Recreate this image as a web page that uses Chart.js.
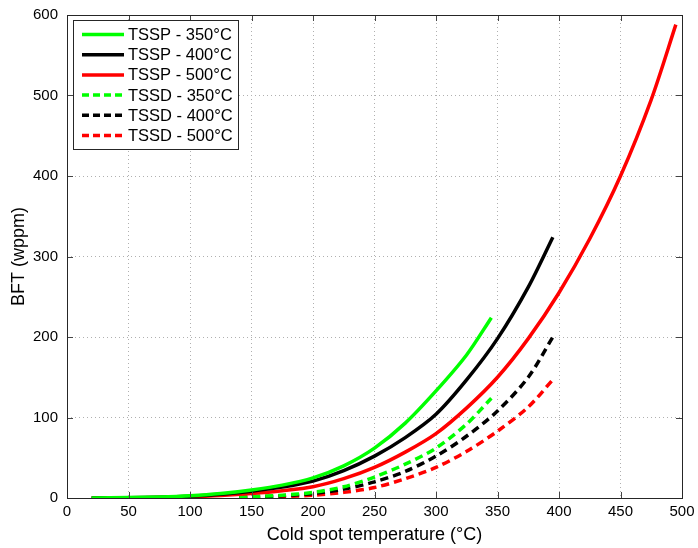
<!DOCTYPE html>
<html lang="en">
  <head>
    <meta charset="UTF-8" />
    <title>BFT vs cold spot temperature</title>
    <script src="https://cdn.jsdelivr.net/npm/chart.js@4.4.0/dist/chart.umd.min.js"></script>
    <style>
      html, body { margin: 0; padding: 0; background: #fff; }
      #wrap { width: 698px; height: 548px; }
    </style>
  </head>
  <body>
    <div id="wrap"><canvas id="bftChart" width="698" height="548"></canvas></div>
    <script>
      // cold spot temperatures (°C) for each curve
      const solid350T = [20, 50, 75, 100, 125, 150, 175, 200, 225, 250, 275, 300, 325, 345];
      const solid400T = [20, 50, 75, 100, 125, 150, 175, 200, 225, 250, 275, 300, 325, 350, 375, 395];
      const solid500T = [20, 50, 75, 100, 125, 150, 175, 200, 225, 250, 275, 300, 325, 350, 375, 400, 425, 450, 475, 495];
      const dash350T = [140, 150, 175, 200, 225, 250, 275, 300, 325, 345];
      const dash400T = [140, 150, 175, 200, 225, 250, 275, 300, 325, 350, 375, 395];
      const dash500T = [140, 150, 175, 200, 225, 250, 275, 300, 325, 350, 375, 395];

      // BFT (wppm)
      const tssp350 = [0.1, 0.5, 1.2, 2.7, 5.5, 10, 16, 25, 40, 62, 93, 133, 178, 224];
      const tssp400 = [0.1, 0.4, 1.0, 2.3, 4.6, 8.5, 13.5, 21, 34, 52, 75, 104, 147, 198, 262, 324];
      const tssp500 = [0.1, 0.3, 0.7, 1.5, 3, 5.5, 9, 14, 24, 38, 57, 80, 112, 150, 198, 255, 322, 400, 495, 588];
      const tssd350 = [1.2, 1.8, 3.5, 7, 14, 26, 42, 62, 92, 124];
      const tssd400 = [1, 1.4, 2.8, 5.5, 11, 20, 33, 52, 77, 108, 150, 200];
      const tssd500 = [0.5, 0.8, 1.8, 3.5, 7, 13, 24, 38, 58, 83, 113, 147];

      const seriesLabels = ["TSSP - 350°C", "TSSP - 400°C", "TSSP - 500°C", "TSSD - 350°C", "TSSD - 400°C", "TSSD - 500°C"];
      const xTicks = [0, 50, 100, 150, 200, 250, 300, 350, 400, 450, 500];
      const yTicks = [0, 100, 200, 300, 400, 500, 600];

      const FONT = "'Liberation Sans', Arial, Helvetica, sans-serif";

      function pts(xs, ys) {
        return xs.map((x, i) => ({ x: x, y: ys[i] }));
      }

      function series(label, xs, ys, color, dashed) {
        return {
          label: label,
          data: pts(xs, ys),
          borderColor: color,
          backgroundColor: color,
          borderWidth: 3.5,
          borderDash: dashed ? [8, 5] : [],
          pointRadius: 0,
          showLine: true,
          tension: 0.3,
        };
      }

      // box round the plot, inward ticks, legend
      const matlabFrame = {
        id: "matlabFrame",
        afterDraw(chart) {
          const { ctx, chartArea: a, scales } = chart;
          ctx.save();
          ctx.setLineDash([]);
          ctx.strokeStyle = "#444";
          ctx.lineWidth = 1;
          ctx.beginPath();
          xTicks.forEach((v) => {
            const px = Math.round(scales.x.getPixelForValue(v)) + 0.5;
            ctx.moveTo(px, a.bottom); ctx.lineTo(px, a.bottom - 6);
            ctx.moveTo(px, a.top); ctx.lineTo(px, a.top + 6);
          });
          yTicks.forEach((v) => {
            const py = Math.round(scales.y.getPixelForValue(v)) + 0.5;
            ctx.moveTo(a.left, py); ctx.lineTo(a.left + 6, py);
            ctx.moveTo(a.right, py); ctx.lineTo(a.right - 6, py);
          });
          ctx.stroke();
          ctx.strokeStyle = "#262626";
          ctx.strokeRect(Math.round(a.left) + 0.5, Math.round(a.top) + 0.5,
            Math.round(a.width), Math.round(a.height));

          // legend
          const bx = 73, by = 20, bw = 165, bh = 129;
          ctx.fillStyle = "#fff";
          ctx.fillRect(bx, by, bw, bh);
          ctx.strokeStyle = "#262626";
          ctx.strokeRect(bx + 0.5, by + 0.5, bw, bh);
          ctx.font = "16.5px " + FONT;
          ctx.textBaseline = "middle";
          chart.data.datasets.forEach((ds, i) => {
            const y = by + 14.5 + i * 20.2;
            ctx.strokeStyle = ds.borderColor;
            ctx.lineWidth = 3.5;
            ctx.setLineDash(ds.borderDash.length ? [7, 4] : []);
            ctx.beginPath();
            ctx.moveTo(bx + 9, y);
            ctx.lineTo(bx + 51, y);
            ctx.stroke();
            ctx.setLineDash([]);
            ctx.fillStyle = "#000";
            ctx.fillText(ds.label, bx + 55, y + 1);
          });
          ctx.restore();
        },
      };

      const chart = new Chart(document.getElementById("bftChart"), {
        type: "scatter",
        data: {
          datasets: [
            series(seriesLabels[0], solid350T, tssp350, "#00ff00", false),
            series(seriesLabels[1], solid400T, tssp400, "#000000", false),
            series(seriesLabels[2], solid500T, tssp500, "#ff0000", false),
            series(seriesLabels[3], dash350T, tssd350, "#00ff00", true),
            series(seriesLabels[4], dash400T, tssd400, "#000000", true),
            series(seriesLabels[5], dash500T, tssd500, "#ff0000", true),
          ],
        },
        options: {
          responsive: false,
          animation: false,
          layout: { padding: { top: 15, right: 16, left: 0, bottom: 0 } },
          plugins: { legend: { display: false }, tooltip: { enabled: false } },
          scales: {
            x: {
              type: "linear",
              min: 0,
              max: 500,
              afterBuildTicks: (s) => { s.ticks = xTicks.map((v) => ({ value: v })); },
              afterFit: (s) => { s.height = 50; s.paddingLeft = 0; s.paddingRight = 0; },
              grid: { color: "#b0b0b0", lineWidth: 1, drawTicks: false },
              border: { display: false, dash: [1, 3] },
              ticks: { color: "#000", font: { family: FONT, size: 15 }, padding: 5, maxRotation: 0 },
              title: { display: true, text: "Cold spot temperature (°C)", color: "#000",
                font: { family: FONT, size: 18 }, padding: { top: 0, bottom: 2 } },
            },
            y: {
              type: "linear",
              min: 0,
              max: 600,
              afterBuildTicks: (s) => { s.ticks = yTicks.map((v) => ({ value: v })); },
              afterFit: (s) => { s.width = 67; s.paddingTop = 0; s.paddingBottom = 0; },
              grid: { color: "#b0b0b0", lineWidth: 1, drawTicks: false },
              border: { display: false, dash: [1, 3] },
              ticks: { color: "#000", font: { family: FONT, size: 15 }, padding: 9 },
              title: { display: true, text: "BFT (wppm)", color: "#000",
                font: { family: FONT, size: 18 }, padding: { top: 8, bottom: 0 } },
            },
          },
        },
        plugins: [matlabFrame],
      });
    </script>
  </body>
</html>
